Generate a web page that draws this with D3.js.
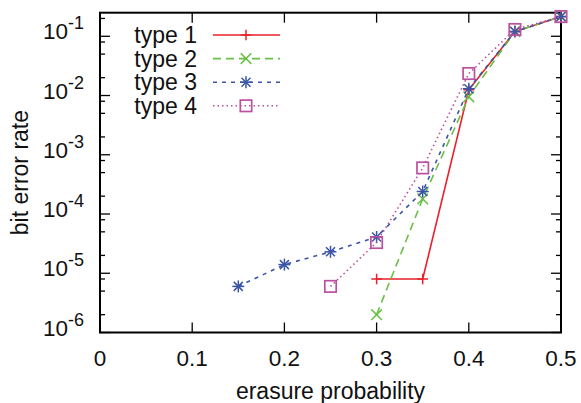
<!DOCTYPE html>
<html>
<head>
<meta charset="utf-8">
<script src="https://cdn.jsdelivr.net/npm/d3@7"></script>
<style>
body { margin: 0; background: #fff; }
text { font-family: "Liberation Sans", Arial, sans-serif; fill: #111; }
</style>
</head>
<body>
<div id="chart"></div>
<script>
// data
let seriesNames = ["type 1", "type 2", "type 3", "type 4"];
let x1 = [0.3, 0.35, 0.4, 0.45, 0.5];
let y1 = [8e-6, 8e-6, 1.25e-2, 0.12, 0.215];
let x2 = [0.3, 0.35, 0.4, 0.45, 0.5];
let y2 = [2e-6, 1.8e-4, 9.5e-3, 0.12, 0.215];
let x3 = [0.15, 0.2, 0.25, 0.3, 0.35, 0.4, 0.45, 0.5];
let y3 = [6e-6, 1.4e-5, 2.3e-5, 4.1e-5, 2.4e-4, 1.3e-2, 0.12, 0.215];
let x4 = [0.25, 0.3, 0.35, 0.4, 0.45, 0.5];
let y4 = [6e-6, 3.3e-5, 6e-4, 2.35e-2, 0.13, 0.215];
let xTicks = [0, 0.1, 0.2, 0.3, 0.4, 0.5];
let xTickLabels = ["0", "0.1", "0.2", "0.3", "0.4", "0.5"];
let yExponents = [-6, -5, -4, -3, -2, -1];
let minorMult = [2, 5, 8];

let width = 581, height = 403;
let pLeft = 100, pRight = 561, pTop = 12.7, pBottom = 332.5;
let fontSize = 22.5;

let svg = d3.select("#chart")
            .append("svg")
            .attr("width", width)
            .attr("height", height);

let x = d3.scaleLinear().domain([0, 0.5]).range([pLeft, pRight]);
let y = d3.scaleLog().domain([1e-6, 0.25]).range([pBottom, pTop]);

let styles = [
    {color: "#e8202a", dash: null, marker: "plus"},
    {color: "#6abf45", dash: "8,5", marker: "cross"},
    {color: "#3b55a5", dash: "4,5", marker: "star"},
    {color: "#bb4fa0", dash: "1.5,3", marker: "square"}
];
let series = [
    {xs: x1, ys: y1}, {xs: x2, ys: y2}, {xs: x3, ys: y3}, {xs: x4, ys: y4}
].map((s, i) => ({name: seriesNames[i], style: styles[i],
    points: s.xs.map((v, j) => [v, s.ys[j]])}));

// ticks, mirrored on all sides, pointing inward
let tickG = svg.append("g").attr("stroke", "#000").attr("stroke-width", 1.3);
xTicks.forEach(t => {
    tickG.append("line").attr("x1", x(t)).attr("x2", x(t)).attr("y1", pBottom).attr("y2", pBottom - 10);
    tickG.append("line").attr("x1", x(t)).attr("x2", x(t)).attr("y1", pTop).attr("y2", pTop + 10);
});
let yMinor = [];
for (let e = -6; e <= -1; e++) {
    minorMult.forEach(m => { let v = m * Math.pow(10, e); if (v <= 0.25) yMinor.push(v); });
}
yExponents.forEach(e => {
    let v = Math.pow(10, e);
    tickG.append("line").attr("x1", pLeft).attr("x2", pLeft + 10).attr("y1", y(v)).attr("y2", y(v));
    tickG.append("line").attr("x1", pRight).attr("x2", pRight - 10).attr("y1", y(v)).attr("y2", y(v));
});
yMinor.forEach(v => {
    tickG.append("line").attr("x1", pLeft).attr("x2", pLeft + 5).attr("y1", y(v)).attr("y2", y(v));
    tickG.append("line").attr("x1", pRight).attr("x2", pRight - 5).attr("y1", y(v)).attr("y2", y(v));
});

// frame
svg.append("rect")
    .attr("x", pLeft).attr("y", pTop)
    .attr("width", pRight - pLeft).attr("height", pBottom - pTop)
    .attr("fill", "none").attr("stroke", "#000").attr("stroke-width", 2);

// tick labels
svg.selectAll(".xlab")
    .data(xTicks)
    .enter().append("text")
    .attr("x", d => x(d))
    .attr("y", pBottom + 33)
    .attr("text-anchor", "middle")
    .style("font-size", fontSize + "px")
    .text((d, i) => xTickLabels[i]);

let ylab = svg.selectAll(".ylab")
    .data(yExponents)
    .enter().append("text")
    .attr("x", 84)
    .attr("y", d => y(Math.pow(10, d)) + 3)
    .attr("text-anchor", "end")
    .style("font-size", fontSize + "px");
ylab.append("tspan").text("10");
ylab.append("tspan")
    .attr("dy", -10)
    .style("font-size", (fontSize * 0.8) + "px")
    .text(d => "" + d);

// axis titles
svg.append("text")
    .attr("x", (pLeft + pRight) / 2)
    .attr("y", 399)
    .attr("text-anchor", "middle")
    .style("font-size", "23px")
    .text("erasure probability");
svg.append("text")
    .attr("transform", "translate(28," + ((pTop + pBottom) / 2) + ") rotate(-90)")
    .attr("text-anchor", "middle")
    .style("font-size", "23px")
    .text("bit error rate");

function drawMarker(g, type, cx, cy, color) {
    let s = type === "star" ? 6 : 5.3;
    let m = g.append("g").attr("stroke", color).attr("stroke-width", 1.5).attr("fill", "none");
    if (type === "plus" || type === "star") {
        m.append("line").attr("x1", cx - s).attr("x2", cx + s).attr("y1", cy).attr("y2", cy);
        m.append("line").attr("x1", cx).attr("x2", cx).attr("y1", cy - s).attr("y2", cy + s);
    }
    if (type === "cross" || type === "star") {
        let d = type === "star" ? s * 0.75 : s;
        m.append("line").attr("x1", cx - d).attr("x2", cx + d).attr("y1", cy - d).attr("y2", cy + d);
        m.append("line").attr("x1", cx - d).attr("x2", cx + d).attr("y1", cy + d).attr("y2", cy - d);
    }
    if (type === "square") {
        m.append("rect").attr("x", cx - 5.7).attr("y", cy - 5.7).attr("width", 11.4).attr("height", 11.4)
            .attr("stroke-width", 1.7);
    }
}

let line = d3.line().x(d => x(d[0])).y(d => y(d[1]));

series.forEach(s => {
    svg.append("path")
        .datum(s.points)
        .attr("d", line)
        .attr("fill", "none")
        .attr("stroke", s.style.color)
        .attr("stroke-width", 1.6)
        .attr("stroke-dasharray", s.style.dash);
    s.points.forEach(p => drawMarker(svg, s.style.marker, x(p[0]), y(p[1]), s.style.color));
});

// legend
series.forEach((s, i) => {
    let ly = 35 + i * 23.6;
    svg.append("text")
        .attr("x", 197)
        .attr("y", ly + 8)
        .attr("text-anchor", "end")
        .style("font-size", "23px")
        .text(s.name);
    svg.append("line")
        .attr("x1", 213).attr("x2", 280)
        .attr("y1", ly).attr("y2", ly)
        .attr("stroke", s.style.color)
        .attr("stroke-width", 1.6)
        .attr("stroke-dasharray", s.style.dash);
    drawMarker(svg, s.style.marker, 246, ly, s.style.color);
});
</script>
</body>
</html>
